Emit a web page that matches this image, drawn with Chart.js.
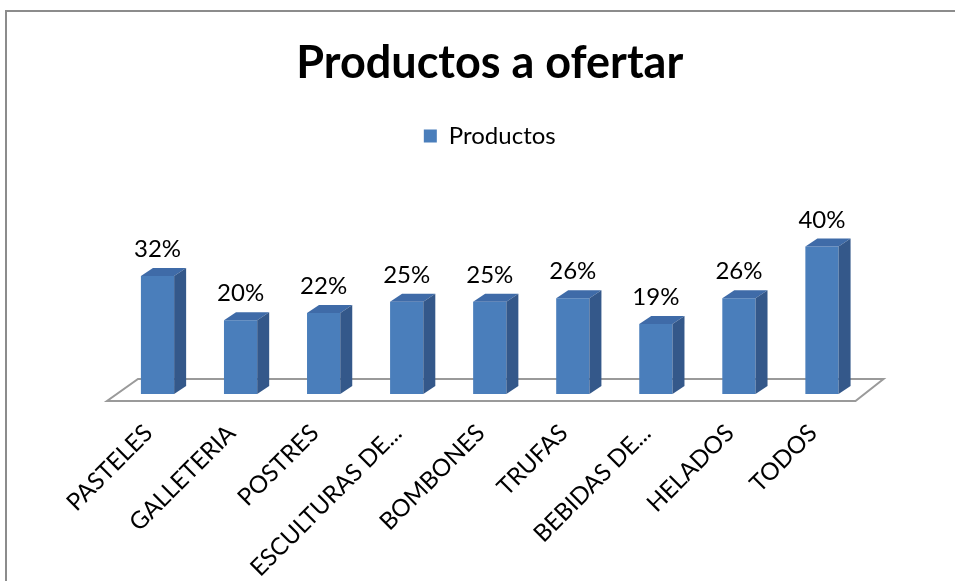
<!DOCTYPE html>
<html>
<head>
<meta charset="utf-8">
<script src="https://cdn.jsdelivr.net/npm/chart.js@4.4.0/dist/chart.umd.min.js"></script>
<style>
  html, body { margin: 0; padding: 0; background: #fff; }
  #wrap { position: relative; width: 955px; height: 581px; overflow: hidden; }
  #frame { position: absolute; left: 5px; top: 10px; width: 1000px; height: 700px; border: 2px solid #8c8c8c; pointer-events: none; }
  canvas { position: absolute; left: 0; top: 0; }
</style>
</head>
<body>
<div id="wrap">
  <canvas id="chart" width="955" height="581"></canvas>
  <div id="frame"></div>
</div>
<script>
// data
const categories = ['PASTELES', 'GALLETERIA', 'POSTRES', 'ESCULTURAS DE...', 'BOMBONES', 'TRUFAS', 'BEBIDAS DE...', 'HELADOS', 'TODOS'];
const productos = [32, 20, 22, 25, 25, 26, 19, 26, 40];
const yMax = 64;

const fontFamily = 'Lato, Calibri, "Liberation Sans", sans-serif';

// fake 3D: floor, bar tops/sides and the % labels
const bars3d = {
    id: 'bars3d',
    beforeDatasetsDraw(chart) {
        const {ctx, chartArea} = chart;
        const base = chart.scales.y.getPixelForValue(0);
        ctx.save();
        ctx.strokeStyle = '#9a9a9a';
        ctx.lineWidth = 2;
        ctx.beginPath();
        ctx.moveTo(chartArea.left - 9, base + 7);
        ctx.lineTo(chartArea.right - 8, base + 7);
        ctx.lineTo(chartArea.right + 20, base - 15);
        ctx.lineTo(chartArea.left + 22, base - 15);
        ctx.closePath();
        ctx.stroke();
        ctx.restore();
    },
    afterDatasetsDraw(chart) {
        const ctx = chart.ctx;
        const dx = 12, dy = 8;
        chart.getDatasetMeta(0).data.forEach((bar, i) => {
            const {x, y, base, width} = bar.getProps(['x', 'y', 'base', 'width'], true);
            const l = x - width / 2, r = x + width / 2;
            ctx.save();
            // top face
            ctx.fillStyle = '#3f6ba8';
            ctx.beginPath();
            ctx.moveTo(l, y);
            ctx.lineTo(r, y);
            ctx.lineTo(r + dx, y - dy);
            ctx.lineTo(l + dx, y - dy);
            ctx.closePath();
            ctx.fill();
            // side face
            ctx.fillStyle = '#34588a';
            ctx.beginPath();
            ctx.moveTo(r, y);
            ctx.lineTo(r + dx, y - dy);
            ctx.lineTo(r + dx, base - dy);
            ctx.lineTo(r, base);
            ctx.closePath();
            ctx.fill();
            // value label
            ctx.fillStyle = '#000';
            ctx.font = '24px ' + fontFamily;
            ctx.textAlign = 'center';
            ctx.textBaseline = 'alphabetic';
            ctx.fillText(productos[i] + '%', x, y - 19);
            ctx.restore();
        });
    }
};

new Chart(document.getElementById('chart'), {
    type: 'bar',
    data: {
        labels: categories,
        datasets: [{
            label: 'Productos',
            data: productos,
            backgroundColor: '#4a7ebb',
            borderWidth: 0,
            categoryPercentage: 1,
            barPercentage: 0.4
        }]
    },
    options: {
        responsive: false,
        animation: false,
        layout: {padding: {left: 116, right: 91.5, top: 0, bottom: 0}},
        plugins: {
            title: {
                display: true,
                text: 'Productos a ofertar',
                color: '#000',
                font: {family: fontFamily, size: 45, weight: 'bold'},
                padding: {top: 36, bottom: 24}
            },
            legend: {
                position: 'top',
                labels: {
                    color: '#000',
                    boxWidth: 13,
                    boxHeight: 13,
                    font: {family: fontFamily, size: 24}
                }
            },
            tooltip: {enabled: false}
        },
        scales: {
            x: {
                grid: {display: false, drawTicks: false},
                border: {display: false},
                ticks: {
                    color: '#000',
                    autoSkip: false,
                    maxRotation: 45,
                    minRotation: 45,
                    padding: 25,
                    labelOffset: -9,
                    font: {family: fontFamily, size: 24}
                },
                afterFit(scale) { scale.height = 187; }
            },
            y: {display: false, min: 0, max: yMax}
        }
    },
    plugins: [bars3d]
});
</script>
</body>
</html>
